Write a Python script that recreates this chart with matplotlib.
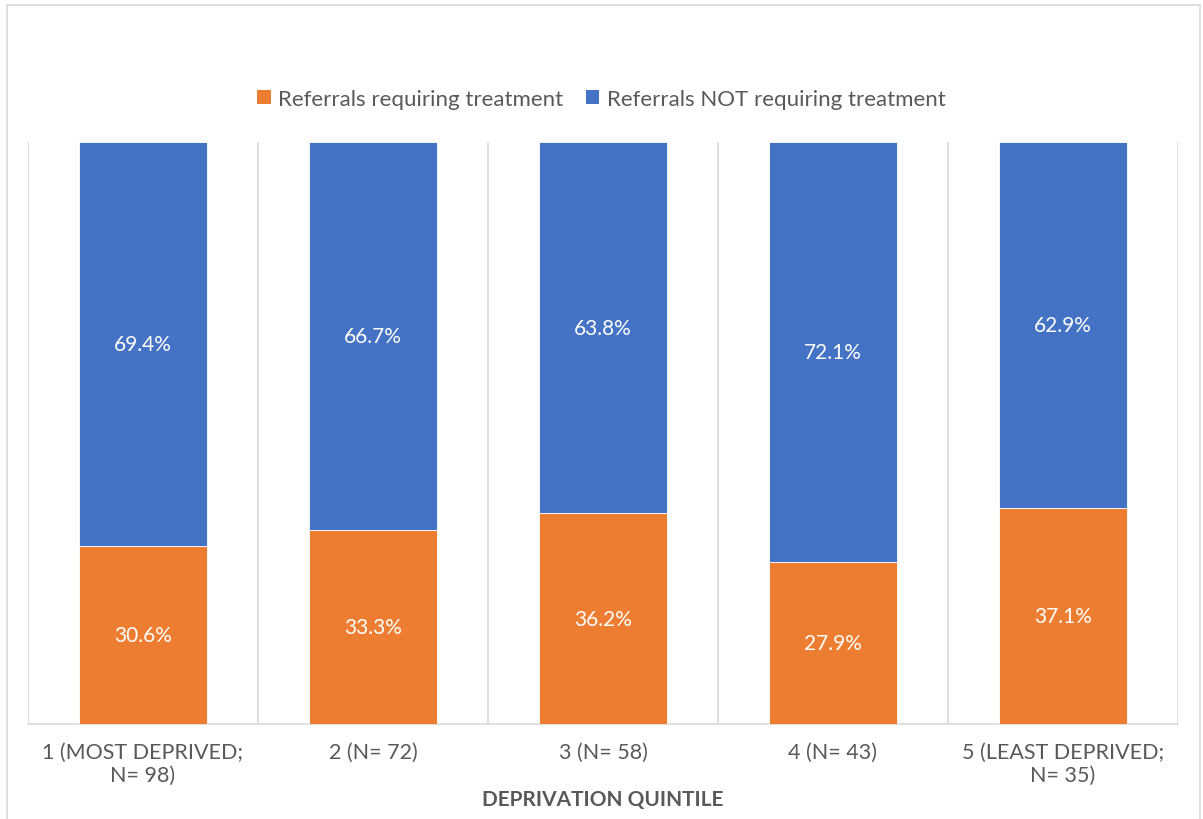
import matplotlib
matplotlib.use("Agg")
import matplotlib.pyplot as plt
from matplotlib.patches import Patch, Rectangle
import numpy as np

categories = ["1 (MOST DEPRIVED;\nN= 98)", "2 (N= 72)", "3 (N= 58)", "4 (N= 43)",
              "5 (LEAST DEPRIVED;\nN= 35)"]
requiring = [30.6, 33.3, 36.2, 27.9, 37.1]
not_requiring = [69.4, 66.7, 63.8, 72.1, 62.9]
series_names = ["Referrals requiring treatment", "Referrals NOT requiring treatment"]
axis_title = "DEPRIVATION QUINTILE"

ORANGE = "#ED7D31"
BLUE = "#4472C4"
GRID = "#D9D9D9"
TEXT = "#595959"

W, H = 1203, 820
fig = plt.figure(figsize=(W / 100, H / 100), dpi=100)

# outer chart frame
fig.patches.append(Rectangle((7 / W, -0.01), (1200 - 7) / W, 1.01 - 6 / H,
                             transform=fig.transFigure, fill=False,
                             edgecolor="#D9D9D9", linewidth=1.2))

ax = fig.add_axes([28 / W, (H - 725) / H, 1150 / W, 582 / H])
x = np.arange(len(categories))
bw = 0.557

ax.bar(x, requiring, width=bw, color=ORANGE, edgecolor="white", linewidth=0.6, zorder=3)
ax.bar(x, not_requiring, bottom=requiring, width=bw, color=BLUE,
       edgecolor="white", linewidth=0.6, zorder=3)

for i in range(len(categories)):
    ax.text(x[i], requiring[i] / 2, f"{requiring[i]:.1f}%", ha="center", va="center",
            color="white", fontsize=15, family="Lato", zorder=4)
    ax.text(x[i], requiring[i] + not_requiring[i] / 2, f"{not_requiring[i]:.1f}%",
            ha="center", va="center", color="white", fontsize=15, family="Lato", zorder=4)

ax.set_xlim(-0.5, len(categories) - 0.5)
ax.set_ylim(0, 100)

# category separators
for b in np.arange(-0.5, len(categories), 1.0):
    ax.axvline(b, color=GRID, linewidth=1.2, zorder=1)

for s in ["top", "right", "left"]:
    ax.spines[s].set_visible(False)
ax.spines["bottom"].set_color(GRID)
ax.spines["bottom"].set_linewidth(1.2)
ax.set_yticks([])
ax.set_xticks(x)
ax.set_xticklabels(categories, fontsize=15.5, family="Lato", color=TEXT,
                   linespacing=1.15)
ax.tick_params(axis="x", length=0, pad=13)
ax.set_xlabel(axis_title, fontsize=15, family="Lato", fontweight="bold",
              color=TEXT, labelpad=3)

handles = [Patch(facecolor=ORANGE), Patch(facecolor=BLUE)]
leg = fig.legend(handles, series_names, loc="center", bbox_to_anchor=(0.5, 1 - 100 / H),
                 ncol=2, frameon=False, handlelength=0.6, handleheight=0.6,
                 handletextpad=0.35, columnspacing=1.0,
                 prop={"family": "Lato", "size": 16})
for t in leg.get_texts():
    t.set_color(TEXT)

fig.savefig("out.png", dpi=100)
